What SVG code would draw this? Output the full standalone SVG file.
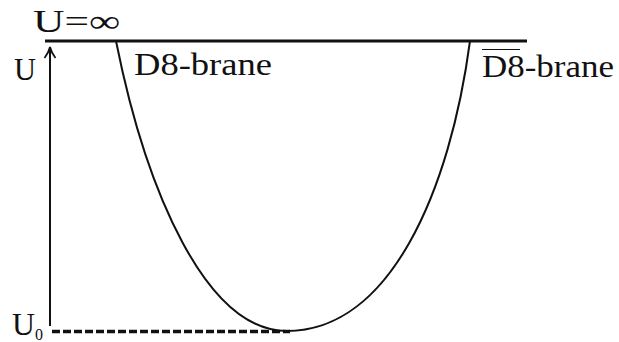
<svg xmlns="http://www.w3.org/2000/svg" width="619" height="342" viewBox="0 0 619 342">
<style>
text{font-family:"Liberation Serif","DejaVu Serif","Times New Roman",serif;fill:#111;font-size:32px}
text.sub{font-size:16px}
.ln{stroke:#111;fill:none;stroke-linecap:butt}
</style>
<rect width="619" height="342" fill="#fff"/>
<g id="boundary">
<line class="ln" x1="45" y1="41" x2="527" y2="41" stroke-width="3"/>
<text x="33" y="32" textLength="87" lengthAdjust="spacingAndGlyphs">U=∞</text>
</g>
<g id="axis">
<line class="ln" x1="50" y1="49" x2="50" y2="326" stroke-width="2"/>
<path class="ln" stroke-width="1.8" d="M44.5 58 Q48.5 53 50 47 Q51.5 53 55.5 58"/>
<text x="14" y="80" textLength="22" lengthAdjust="spacingAndGlyphs">U</text>
<text x="12" y="335" textLength="23" lengthAdjust="spacingAndGlyphs">U</text>
<text class="sub" x="35" y="340">0</text>
<line class="ln" x1="52" y1="331.5" x2="290" y2="331.5" stroke-width="3.5" stroke-dasharray="8 3"/>
</g>
<g id="curve">
<path class="ln" stroke-width="2" d="M116 41 C146 191 206 331 287 331 C390 331 450 191 470 41"/>
</g>
<g id="d8">
<text x="134" y="75" textLength="138" lengthAdjust="spacingAndGlyphs">D8-brane</text>
</g>
<g id="d8bar">
<line class="ln" x1="482" y1="49.5" x2="520" y2="49.5" stroke-width="1.2"/>
<text x="482" y="77" textLength="132" lengthAdjust="spacingAndGlyphs">D8-brane</text>
</g>
</svg>
